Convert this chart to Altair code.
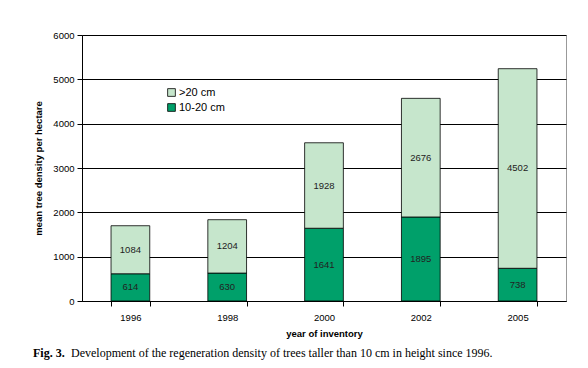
import altair as alt
import pandas as pd

years = ["1996", "1998", "2000", "2002", "2005"]
small = [614, 630, 1641, 1895, 738]      # 10-20 cm
large = [1084, 1204, 1928, 2676, 4502]   # >20 cm
series = ["10-20 cm", ">20 cm"]
colors = ["#00a06a", "#c6e6cc"]

rows = []
for i, y in enumerate(years):
    rows.append({"year": y, "size": series[0], "value": small[i], "ord": 0})
    rows.append({"year": y, "size": series[1], "value": large[i], "ord": 1})
df = pd.DataFrame(rows)

font = "Liberation Sans"

xenc = alt.X("year:N", title="year of inventory",
             scale=alt.Scale(paddingInner=0.6, paddingOuter=0.3),
             axis=alt.Axis(labelAngle=0, tickBand="extent", tickColor="black",
                           domainColor="black", labelFont=font, labelFontSize=9.5,
                           labelColor="black", titleFont=font, titleFontSize=9.5,
                           titleFontWeight="bold", titleColor="black",
                           labelPadding=6, titlePadding=7, tickSize=5))

base = alt.Chart(df).transform_stack(
    stack="value", groupby=["year"], as_=["y0", "y1"],
    sort=[alt.SortField("ord", order="ascending")]
)

bars = base.mark_bar(stroke="black", strokeWidth=0.8).encode(
    x=xenc,
    y=alt.Y("y0:Q", title="mean tree density per hectare",
            scale=alt.Scale(domain=[0, 6000]),
            axis=alt.Axis(values=[0, 1000, 2000, 3000, 4000, 5000, 6000], format="d",
                          gridColor="black", gridWidth=1, tickColor="black",
                          domainColor="black", labelFont=font, labelFontSize=9.5,
                          labelColor="black", titleFont=font, titleFontSize=9.5,
                          titleFontWeight="bold", titleColor="black",
                          tickSize=5, labelPadding=3, titlePadding=9)),
    y2="y1:Q",
    color=alt.Color("size:N",
                    scale=alt.Scale(domain=series, range=colors),
                    sort=[">20 cm", "10-20 cm"],
                    legend=alt.Legend(title=None, orient="none", legendX=84, legendY=52,
                                      symbolType="square", symbolSize=60,
                                      symbolStrokeColor="black", symbolStrokeWidth=0.8,
                                      labelFont=font, labelFontSize=11, labelColor="black",
                                      rowPadding=3, labelOffset=2,
                                      values=[">20 cm", "10-20 cm"])),
)

labels = base.transform_calculate(mid="(datum.y0 + datum.y1) / 2").mark_text(
    font=font, fontSize=9.5, color="#222222"
).encode(
    x="year:N",
    y=alt.Y("mid:Q"),
    text="value:Q",
)

cap1 = alt.Chart(pd.DataFrame({"t": ["Fig. 3."]})).mark_text(
    font="Liberation Serif", fontSize=12, fontWeight="bold", align="left",
    baseline="alphabetic", color="black"
).encode(x=alt.value(-49), y=alt.value(322), text="t:N")

cap2 = alt.Chart(pd.DataFrame({"t": ["Development of the regeneration density of trees taller than 10 cm in height since 1996."]})).mark_text(
    font="Liberation Serif", fontSize=12, align="left",
    baseline="alphabetic", color="black"
).encode(x=alt.value(-11), y=alt.value(322), text="t:N")

chart = alt.layer(bars, labels, cap1, cap2).properties(
    width=484, height=266,
    autosize=alt.AutoSizeParams(type="none"),
    padding={"left": 74, "top": 27, "right": 14, "bottom": 60},
).configure_view(stroke="#999999", strokeWidth=1).configure_axis(grid=True).configure_axisX(grid=False)

chart.save("out.html", embed_options={"renderer": "svg", "actions": False})
